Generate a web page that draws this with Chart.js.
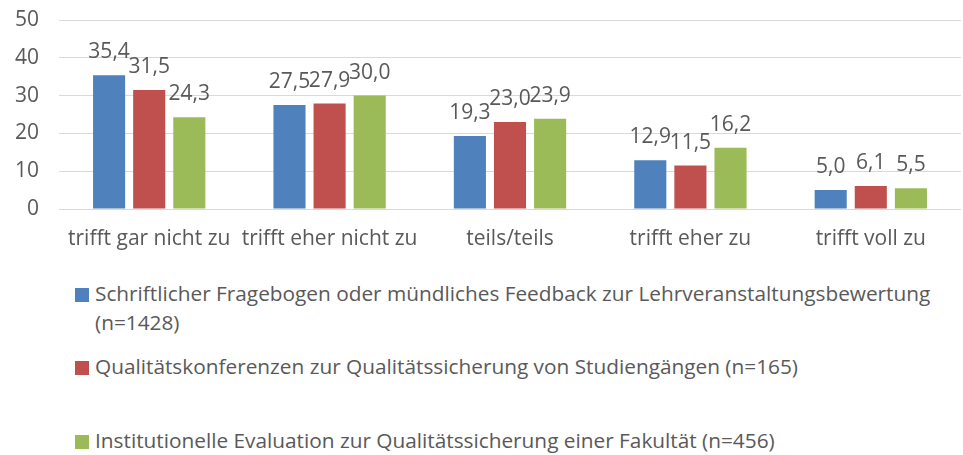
<!DOCTYPE html>
<html lang="de">
<head>
  <meta charset="UTF-8">
  <title>Bewertung der Verfahren</title>
  <script src="https://cdn.jsdelivr.net/npm/chart.js"></script>
  <style>
    body { margin: 0; background: #fff; font-family: "Open Sans", sans-serif; color: #595959; }
    #wrap { position: relative; width: 963px; height: 455px; }
    #legend .item { position: absolute; left: 75px; }
    #legend .box { position: absolute; left: 0; width: 14px; height: 14px; }
    #legend .txt { position: absolute; left: 20px; width: 880px; font-size: 20.8px; line-height: 29px; white-space: nowrap; }
  </style>
</head>
<body>
<div id="wrap">
  <canvas id="chart" width="963" height="265"></canvas>
  <div id="legend"></div>
</div>
<script>
  // answer categories and shares in percent per survey group
  const categories = ['trifft gar nicht zu', 'trifft eher nicht zu', 'teils/teils', 'trifft eher zu', 'trifft voll zu'];
  const seriesNames = [
    'Schriftlicher Fragebogen oder mündliches Feedback zur Lehrveranstaltungsbewertung\n(n=1428)',
    'Qualitätskonferenzen zur Qualitätssicherung von Studiengängen (n=165)',
    'Institutionelle Evaluation zur Qualitätssicherung einer Fakultät (n=456)'
  ];
  const feedbackValues = [35.4, 27.5, 19.3, 12.9, 5.0];
  const konferenzValues = [31.5, 27.9, 23.0, 11.5, 6.1];
  const evaluationValues = [24.3, 30.0, 23.9, 16.2, 5.5];
  const colors = ['#4F81BD', '#C0504D', '#9BBB59'];

  const textColor = '#595959';
  const font = { family: '"Open Sans", sans-serif', size: 21 };

  // value labels above each bar, German decimal comma
  const barLabels = {
    id: 'barLabels',
    afterDatasetsDraw(chart) {
      const ctx = chart.ctx;
      ctx.save();
      ctx.font = font.size + 'px ' + font.family;
      ctx.fillStyle = textColor;
      ctx.textAlign = 'center';
      ctx.textBaseline = 'alphabetic';
      chart.data.datasets.forEach((ds, i) => {
        chart.getDatasetMeta(i).data.forEach((bar, j) => {
          const txt = ds.data[j].toFixed(1).replace('.', ',');
          ctx.fillText(txt, bar.x, bar.y - 17);
        });
      });
      ctx.restore();
    }
  };

  const allValues = [feedbackValues, konferenzValues, evaluationValues];

  new Chart(document.getElementById('chart'), {
    type: 'bar',
    data: {
      labels: categories,
      datasets: allValues.map((vals, i) => ({
        label: seriesNames[i],
        data: vals,
        backgroundColor: colors[i],
        borderWidth: 0
      }))
    },
    options: {
      responsive: false,
      animation: false,
      categoryPercentage: 0.667,
      barPercentage: 0.8,
      layout: { padding: { top: 20, right: 2, left: 0, bottom: 0 } },
      plugins: {
        legend: { display: false },
        tooltip: { enabled: false }
      },
      scales: {
        x: {
          grid: { display: false, drawTicks: false },
          border: { display: false },
          ticks: { color: textColor, font: font, padding: 17, maxRotation: 0 },
          afterFit: s => { s.height = 56; }
        },
        y: {
          min: 0,
          max: 50,
          ticks: { stepSize: 10, color: textColor, font: font, padding: 20 },
          grid: { color: '#D9D9D9', lineWidth: 1, drawTicks: false },
          border: { display: false },
          afterFit: s => {
            s.width = 59;
            // tick padding is horizontal only here
            s.paddingTop = 0;
            s.paddingBottom = 0;
          }
        }
      }
    },
    plugins: [barLabels]
  });

  // legend below the chart
  const legendTops = [279, 352, 426];
  const legend = document.getElementById('legend');
  seriesNames.forEach((name, i) => {
    const item = document.createElement('div');
    item.className = 'item';
    item.style.top = legendTops[i] + 'px';
    const box = document.createElement('div');
    box.className = 'box';
    box.style.background = colors[i];
    box.style.top = '9px';
    const txt = document.createElement('div');
    txt.className = 'txt';
    txt.style.top = '0px';
    name.split('\n').forEach((line, k) => {
      if (k) txt.appendChild(document.createElement('br'));
      txt.appendChild(document.createTextNode(line));
    });
    item.appendChild(box);
    item.appendChild(txt);
    legend.appendChild(item);
  });
</script>
</body>
</html>
